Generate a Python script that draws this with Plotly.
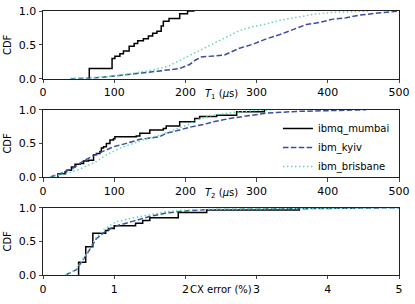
import plotly.graph_objects as go

# ---- data ----
# T1 (us)
t1_mumbai_x = [65, 65, 97, 101, 108, 113, 121, 128, 133, 141, 148, 154, 160, 166, 169, 177, 192, 203, 213]
t1_mumbai_y = [0.0, 0.15, 0.30, 0.33, 0.37, 0.41, 0.48, 0.52, 0.56, 0.59, 0.63, 0.67, 0.70, 0.78, 0.85, 0.89, 0.96, 1.0, 1.0]
t1_kyiv_x = [38, 70, 100, 130, 160, 192, 206, 215, 222, 255, 276, 295, 314, 332, 351, 370, 388, 407, 426, 445, 470, 500]
t1_kyiv_y = [0.0, 0.01, 0.04, 0.08, 0.11, 0.15, 0.21, 0.28, 0.32, 0.35, 0.45, 0.51, 0.59, 0.65, 0.73, 0.80, 0.83, 0.88, 0.90, 0.94, 0.97, 1.0]
t1_brisbane_x = [38, 60, 90, 120, 150, 175, 192, 205, 220, 239, 258, 276, 295, 314, 332, 351, 379, 407, 435, 460]
t1_brisbane_y = [0.0, 0.01, 0.03, 0.07, 0.12, 0.18, 0.27, 0.34, 0.42, 0.52, 0.62, 0.71, 0.77, 0.81, 0.86, 0.90, 0.95, 0.98, 0.995, 1.0]

# T2 (us)
t2_mumbai_x = [21, 21, 31, 33, 40, 45, 52, 57, 64, 71, 75, 80, 82, 85, 89, 94, 99, 101, 131, 136, 150, 169, 173, 192, 213, 220, 244, 272, 311]
t2_mumbai_y = [0.0, 0.05, 0.08, 0.10, 0.15, 0.19, 0.20, 0.24, 0.25, 0.33, 0.35, 0.38, 0.43, 0.45, 0.50, 0.55, 0.57, 0.60, 0.61, 0.65, 0.70, 0.72, 0.76, 0.82, 0.87, 0.90, 0.92, 0.97, 1.0]
t2_kyiv_x = [10, 24, 42, 57, 71, 89, 99, 117, 136, 164, 173, 192, 206, 225, 239, 262, 286, 314, 356, 393, 454]
t2_kyiv_y = [0.0, 0.05, 0.13, 0.24, 0.32, 0.41, 0.45, 0.50, 0.56, 0.60, 0.65, 0.70, 0.74, 0.78, 0.82, 0.87, 0.91, 0.95, 0.975, 0.985, 1.0]
t2_brisbane_x = [10, 33, 52, 75, 89, 108, 127, 145, 164, 183, 202, 216, 239, 267, 300, 325]
t2_brisbane_y = [0.0, 0.05, 0.12, 0.23, 0.33, 0.43, 0.50, 0.57, 0.62, 0.70, 0.77, 0.85, 0.92, 0.96, 0.99, 1.0]

# CX error (%)
cx_mumbai_x = [0.50, 0.50, 0.60, 0.70, 0.88, 0.92, 1.0, 1.30, 1.40, 1.50, 1.90, 2.30, 3.60]
cx_mumbai_y = [0.0, 0.19, 0.42, 0.62, 0.66, 0.69, 0.73, 0.77, 0.81, 0.85, 0.93, 0.965, 1.0]
cx_kyiv_x = [0.32, 0.47, 0.61, 0.75, 0.89, 1.03, 1.27, 1.5, 1.73, 1.97, 2.3, 3.0, 4.0, 5.0]
cx_kyiv_y = [0.0, 0.08, 0.30, 0.54, 0.66, 0.73, 0.80, 0.87, 0.92, 0.95, 0.97, 0.98, 0.99, 1.0]
cx_brisbane_x = [0.32, 0.47, 0.61, 0.75, 0.87, 1.03, 1.27, 1.5, 1.73, 1.92, 2.3, 3.0, 4.0, 5.0]
cx_brisbane_y = [0.0, 0.09, 0.32, 0.56, 0.69, 0.79, 0.85, 0.89, 0.94, 0.96, 0.975, 0.985, 0.993, 1.0]

device_names = ["ibmq_mumbai", "ibm_kyiv", "ibm_brisbane"]
x_titles = ["<i>T</i><sub>1</sub> (<i>μ</i>s)", "<i>T</i><sub>2</sub> (<i>μ</i>s)", "CX error (%)"]
x_tickvals = [[0, 100, 200, 300, 400, 500], [0, 100, 200, 300, 400, 500], [0, 1, 2, 3, 4, 5]]
y_tickvals = [0.0, 0.5, 1.0]
y_ticktext = ["0.0", "0.5", "1.0"]

# ---- styling ----
FONT = "DejaVu Sans"
colors = ["#000000", "#3A4DA0", "#5FD9B0"]
dashes = ["solid", "5.5px,2.4px", "1.5px,2.5px"]
shapes_line = ["hv", "linear", "linear"]

panels = [
    [(t1_mumbai_x, t1_mumbai_y), (t1_kyiv_x, t1_kyiv_y), (t1_brisbane_x, t1_brisbane_y)],
    [(t2_mumbai_x, t2_mumbai_y), (t2_kyiv_x, t2_kyiv_y), (t2_brisbane_x, t2_brisbane_y)],
    [(cx_mumbai_x, cx_mumbai_y), (cx_kyiv_x, cx_kyiv_y), (cx_brisbane_x, cx_brisbane_y)],
]
x_ranges = [[0, 500], [0, 500], [0, 5]]
domains = [[0.7436, 1.0], [0.371, 0.626], [0.0, 0.255]]

fig = go.Figure()
for p, series in enumerate(panels):
    xa = "x" if p == 0 else f"x{p+1}"
    ya = "y" if p == 0 else f"y{p+1}"
    for s, (xs, ys) in enumerate(series):
        fig.add_trace(go.Scatter(
            x=xs, y=ys, mode="lines", xaxis=xa, yaxis=ya,
            name=device_names[s], showlegend=(p == 1),
            line=dict(color=colors[s], width=1.5, dash=dashes[s], shape=shapes_line[s]),
        ))

layout = dict(
    width=415, height=304,
    margin=dict(l=43, r=16, t=11, b=29, autoexpand=False),
    plot_bgcolor="white", paper_bgcolor="white",
    font=dict(family=FONT, size=10, color="#000"),
    legend=dict(x=0.66, y=0.483, xanchor="left", yanchor="middle",
                bgcolor="rgba(255,255,255,0)", font=dict(size=10),
                tracegroupgap=0, itemwidth=30),
)
annotations = []
title_y_px = [94, 193, 289]
for p in range(3):
    xk = "xaxis" if p == 0 else f"xaxis{p+1}"
    yk = "yaxis" if p == 0 else f"yaxis{p+1}"
    ya = "y" if p == 0 else f"y{p+1}"
    xa = "x" if p == 0 else f"x{p+1}"
    layout[xk] = dict(
        domain=[0, 1], anchor=ya, range=x_ranges[p], automargin=False,
        tickvals=x_tickvals[p], ticks="outside", ticklen=3.5, tickwidth=0.8,
        showline=True, linecolor="#222", linewidth=0.9, mirror=True,
        showgrid=False, zeroline=False, tickfont=dict(size=11, family=FONT),
    )
    layout[yk] = dict(
        domain=domains[p], anchor=xa, range=[0, 1.0], automargin=False,
        tickvals=y_tickvals, ticktext=y_ticktext, ticks="outside", ticklen=3.5, tickwidth=0.8,
        showline=True, linecolor="#222", linewidth=0.9, mirror=True,
        showgrid=False, zeroline=False, tickfont=dict(size=11, family=FONT),
        title=dict(text="CDF", standoff=5, font=dict(size=10, family=FONT)),
    )
    annotations.append(dict(
        text=x_titles[p], xref="paper", yref="paper", x=0.5,
        y=(304 - 29 - title_y_px[p]) / 264.0, xanchor="center", yanchor="middle",
        showarrow=False, font=dict(size=10, family=FONT),
    ))
layout["annotations"] = annotations
fig.update_layout(**layout)

fig.write_html(
    "out.html",
    config={"displayModeBar": False},
    post_script="document.body.style.margin='0';document.body.style.padding='0';",
)
